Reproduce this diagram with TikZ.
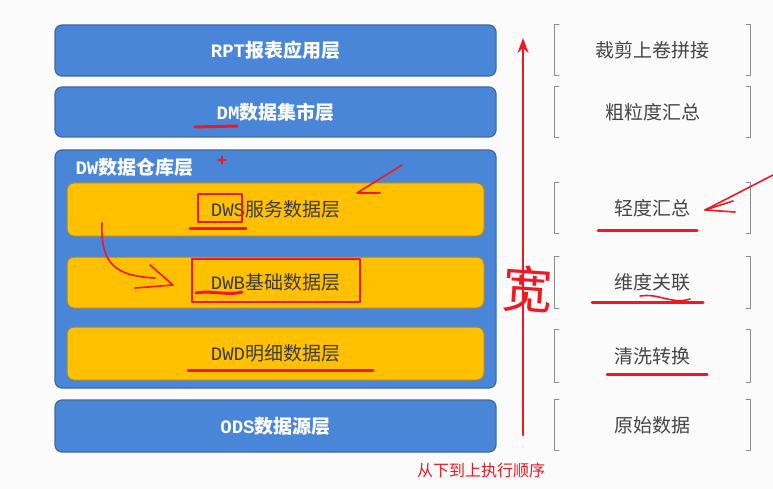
\documentclass[tikz,border=0pt]{standalone}
\usepackage{fontspec}
\setmainfont{Noto Sans CJK SC}
\newfontfamily\latinmono{Liberation Mono}
\usetikzlibrary{arrows.meta,calc,positioning}

\definecolor{layerblue}{HTML}{4A86D8}
\definecolor{layeredge}{HTML}{41699E}
\definecolor{subfill}{HTML}{FFC000}
\definecolor{subedge}{HTML}{9C8650}
\definecolor{subtext}{HTML}{3C3C3C}
\definecolor{notegray}{HTML}{8C8C8C}
\definecolor{notetext}{HTML}{454545}
\definecolor{penred}{HTML}{F01822}
\definecolor{paper}{HTML}{FBFBFB}

\begin{document}
\begin{tikzpicture}[
    x=1pt, y=-1pt,
    >=Stealth,
    line cap=round,
    line join=round,
    layer/.style={draw=layeredge, line width=1.2pt, fill=layerblue,
        rounded corners=7pt, minimum width=441pt, text=white,
        font=\fontsize{19}{19}\selectfont\bfseries},
    sublayer/.style={draw=subedge, line width=1pt, fill=subfill,
        rounded corners=7pt, minimum width=417pt, text=subtext,
        font=\fontsize{19}{19}\selectfont},
    note/.style={minimum width=195pt, text=notetext,
        font=\fontsize{19}{19}\selectfont},
    bracket/.style={draw=notegray, line width=1pt},
    pen/.style={draw=penred, line width=1.6pt},
    fatpen/.style={draw=penred, line width=3pt}
]

% -----------------------
% Page
% -----------------------
\fill[paper] (0,0) rectangle (773,489);
\useasboundingbox (0,0) rectangle (773,489);

% -----------------------
% Layers
% -----------------------
\node[layer, minimum height=51pt] (rpt) at (275.5,50.5) {{\latinmono RPT}报表应用层};
\node[layer, minimum height=50pt] (dm)  at (275.5,112) {{\latinmono DM}数据集市层};
\node[layer, minimum height=238pt] (dw) at (275.5,269) {};
\node[anchor=west, text=white, font=\fontsize{19}{19}\selectfont\bfseries]
    (dwtitle) at (72,167) {{\latinmono DW}数据仓库层};

\node[sublayer, minimum height=53pt] (dws) at (275.5,209.5) {{\latinmono DWS}服务数据层};
\node[sublayer, minimum height=51pt] (dwb) at (275.5,282.5) {{\latinmono DWB}基础数据层};
\node[sublayer, minimum height=53pt] (dwd) at (275.5,353.5) {{\latinmono DWD}明细数据层};

\node[layer, minimum height=52pt] (ods) at (275.5,426) {{\latinmono ODS}数据源层};

% -----------------------
% Notes with brackets
% -----------------------
\node[note, minimum height=50pt] (n1) at (652.5,50)  {裁剪上卷拼接};
\node[note, minimum height=50pt] (n2) at (652.5,112) {粗粒度汇总};
\node[note, minimum height=50pt] (n3) at (652.5,208) {轻度汇总};
\node[note, minimum height=51pt] (n4) at (652.5,282.5) {维度关联};
\node[note, minimum height=52pt] (n5) at (652.5,356) {清洗转换};
\node[note, minimum height=50pt] (n6) at (652.5,425) {原始数据};

\foreach \n in {n1,n2,n3,n4,n5,n6}{
    \draw[bracket] ([xshift=4pt]\n.north west) -- (\n.north west)
        -- (\n.south west) -- ([xshift=4pt]\n.south west);
    \draw[bracket] ([xshift=-4pt]\n.north east) -- (\n.north east)
        -- (\n.south east) -- ([xshift=-4pt]\n.south east);
}

% -----------------------
% Order arrow
% -----------------------
\coordinate (ordlow) at (523,435);
\coordinate (ordtop) at (523,38);
\draw[draw=penred, line width=2.2pt, -{Stealth[length=15pt,width=11pt]}]
    (ordlow) -- (ordtop);
\node[text=penred, font=\fontsize{16}{16}\selectfont] (order) at (481,470)
    {从下到上执行顺序};

% -----------------------
% Hand marks on layers
% -----------------------
\draw[draw=penred, line width=1.3pt] (218,160) -- (226,160) (222,156) -- (222,164);
\draw[fatpen] (195,127) -- (237,126);

% DWS
\draw[pen] (198,194) rectangle (242,222);
\draw[fatpen] (190,228) -- (246,228);
\draw[pen] (402,165) -- (357,193) -- (380,193);

% DWS -> DWB
\draw[pen] (102,223) .. controls (100,266) and (118,276) .. (155,278);
\draw[pen] (150,265) -- (173,285) -- (135,288);

% DWB
\draw[pen] (192,259) rectangle (360,302);
\draw[fatpen] (196,293) .. controls (212,290) and (228,296) .. (242,292);

% DWD
\draw[fatpen] (188,370) -- (373,370);

% -----------------------
% Hand marks on notes
% -----------------------
\draw[pen] (773,175) -- (705,210) -- (735,212);
\draw[pen] (705,210) -- (733,201);
\draw[fatpen] (598,230) -- (697,230);
\draw[fatpen] (592,302) -- (703,302);
\draw[pen] (640,296) .. controls (660,293) and (672,305) .. (690,299);
\draw[fatpen] (607,374) -- (707,374);

\node[text=penred, font=\fontsize{50}{50}\selectfont, rotate=-4] (kuan)
    at (528,289) {宽};

\end{tikzpicture}
\end{document}
